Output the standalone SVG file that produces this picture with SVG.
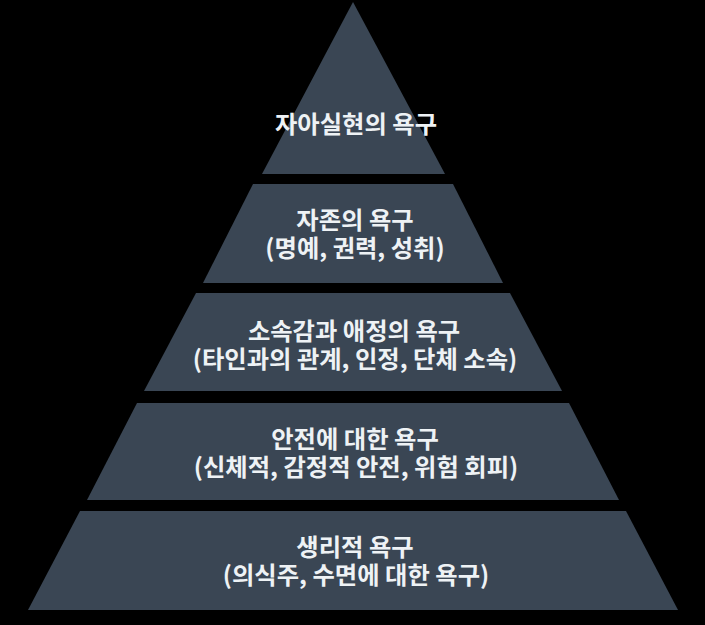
<svg xmlns="http://www.w3.org/2000/svg" width="705" height="625" viewBox="0 0 705 625">
<style>
.layer{fill:#3a4654;}
.t{font-family:"Noto Sans CJK KR","Noto Sans",sans-serif;font-weight:700;font-size:24.3px;fill:#eef2f5;text-anchor:middle;dominant-baseline:central;}
</style>
<rect width="705" height="625" fill="#000"/>
<g id="level5-self-actualization">
<polygon class="layer" points="353,2 445,174 262,174"/>
<text class="t" x="356" y="122">자아실현의 욕구</text>
</g>
<g id="level4-esteem">
<polygon class="layer" points="253,184 453,184 503,283 203,283"/>
<text class="t"><tspan x="355" y="218">자존의 욕구</tspan><tspan x="355" y="246">(명예, 권력, 성취)</tspan></text>
</g>
<g id="level3-belonging">
<polygon class="layer" points="196,293 510,293 562,391 144,391"/>
<text class="t"><tspan x="354" y="329">소속감과 애정의 욕구</tspan><tspan x="355" y="357">(타인과의 관계, 인정, 단체 소속)</tspan></text>
</g>
<g id="level2-safety">
<polygon class="layer" points="137,403 569,403 619,500 87,500"/>
<text class="t"><tspan x="355" y="437">안전에 대한 욕구</tspan><tspan x="356" y="465">(신체적, 감정적 안전, 위험 회피)</tspan></text>
</g>
<g id="level1-physiological">
<polygon class="layer" points="80,511 626,511 678,610 28,610"/>
<text class="t"><tspan x="355" y="545">생리적 욕구</tspan><tspan x="356" y="573">(의식주, 수면에 대한 욕구)</tspan></text>
</g>
<g id="connectors"/>
</svg>
